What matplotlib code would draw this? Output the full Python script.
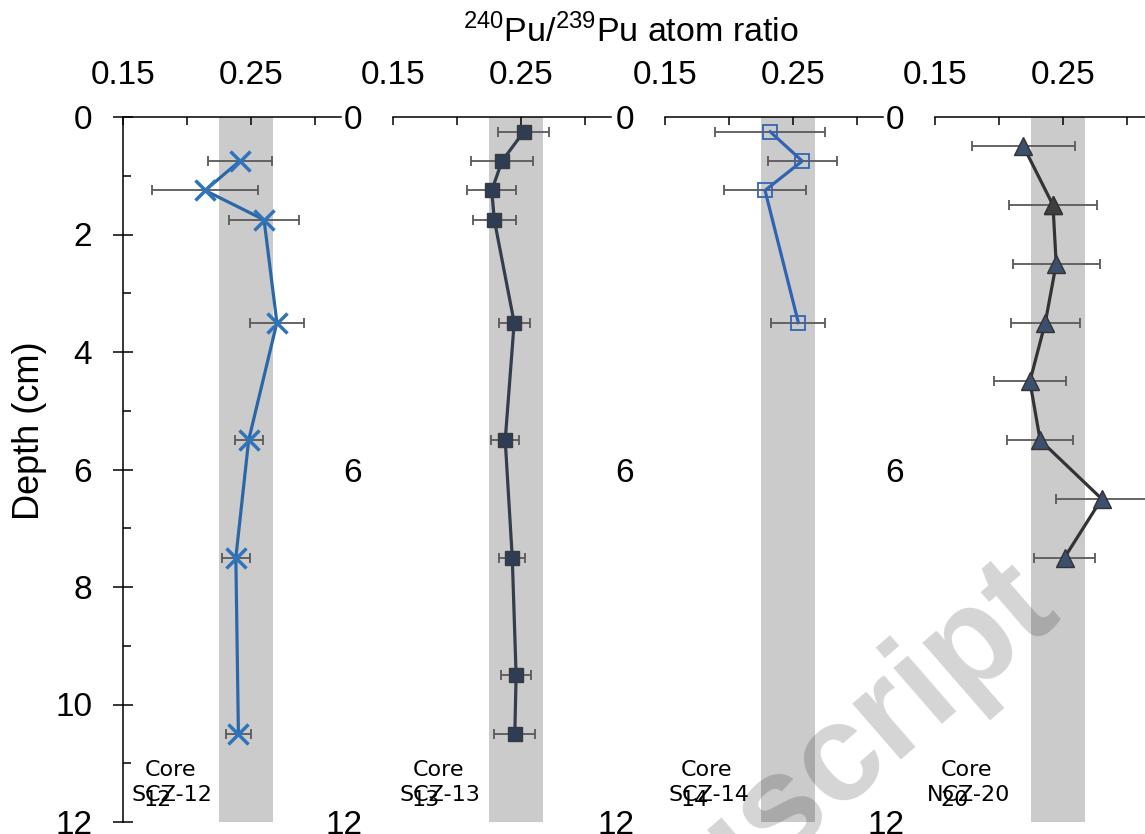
import numpy as np
import matplotlib.pyplot as plt
from matplotlib.ticker import MultipleLocator, FixedLocator

plt.rcParams['font.family'] = ['Liberation Sans', 'DejaVu Sans']
plt.rcParams['mathtext.fontset'] = 'custom'
plt.rcParams['mathtext.rm'] = 'Liberation Sans'

# data: depth (cm), 240Pu/239Pu ratio, error
scz12_depth = [0.75, 1.25, 1.75, 3.5, 5.5, 7.5, 10.5]
scz12_ratio = [0.241, 0.214, 0.260, 0.270, 0.248, 0.238, 0.240]
scz12_err = [0.025, 0.041, 0.027, 0.021, 0.011, 0.011, 0.010]

scz13_depth = [0.25, 0.75, 1.25, 1.75, 3.5, 5.5, 7.5, 9.5, 10.5]
scz13_ratio = [0.252, 0.235, 0.227, 0.229, 0.2445, 0.2375, 0.243, 0.246, 0.245]
scz13_err = [0.020, 0.024, 0.019, 0.017, 0.012, 0.011, 0.010, 0.012, 0.016]

scz14_depth = [0.25, 0.75, 1.25, 3.5]
scz14_ratio = [0.232, 0.257, 0.228, 0.254]
scz14_err = [0.043, 0.027, 0.032, 0.021]

ncz20_depth = [0.5, 1.5, 2.5, 3.5, 4.5, 5.5, 6.5, 7.5]
ncz20_ratio = [0.219, 0.242, 0.2445, 0.236, 0.224, 0.232, 0.280, 0.251]
ncz20_err = [0.040, 0.034, 0.034, 0.027, 0.028, 0.026, 0.036, 0.024]

core_names = ['SCZ-12', 'SCZ-13', 'SCZ-14', 'NCZ-20']
core_nums = ['12', '13', '14', '20']
band = (0.225, 0.267)  # global fallout range

W, H = 1145, 834
fig = plt.figure(figsize=(W / 100, H / 100), dpi=100)

px = 0.72  # points per pixel
lefts = [123, 393, 665, 935]
ax_w, ax_top, ax_bot = 218, 117, 822

series = [
    (scz12_depth, scz12_ratio, scz12_err,
     dict(color='#2a67a8', marker='x', ms=14, mec='#2f74bb', mew=2.5, mfc='#2f74bb')),
    (scz13_depth, scz13_ratio, scz13_err,
     dict(color='#323d4e', marker='s', ms=10.5, mec='#3a3a3a', mew=1.0, mfc='#2e3d55')),
    (scz14_depth, scz14_ratio, scz14_err,
     dict(color='#3262b2', marker='s', ms=10.5, mec='#3464b4', mew=1.3, mfc='none')),
    (ncz20_depth, ncz20_ratio, ncz20_err,
     dict(color='#333333', marker='^', ms=12.5, mec='#333333', mew=1.0, mfc='#3b4f6e')),
]

label_dx = [47, 45, 42, 32]

for i, (d, r, e, st) in enumerate(series):
    ax = fig.add_axes([lefts[i] / W, (H - ax_bot) / H, ax_w / W, (ax_bot - ax_top) / H])
    ax.set_xlim(0.15, 0.32)
    ax.set_ylim(12, 0)
    ax.axvspan(band[0], band[1], color='#cbcbcb', zorder=0, lw=0)
    ax.errorbar(r, d, xerr=e, fmt='none', ecolor='#595959', elinewidth=1.3,
                capsize=3.6, capthick=1.3, zorder=2)
    ax.plot(r, d, color=st['color'], lw=2.3, zorder=3)
    ax.plot(r, d, ls='none', marker=st['marker'], ms=st['ms'], mec=st['mec'],
            mew=st['mew'], mfc=st['mfc'], zorder=4)
    if i == 3:
        # one triangle is drawn in a darker grey in the original
        ax.plot(r[1], d[1], ls='none', marker='^', ms=st['ms'], mec='#333333',
                mew=1.0, mfc='#3f3f3f', zorder=5)

    for s in ['right', 'bottom']:
        ax.spines[s].set_visible(False)
    ax.spines['top'].set_linewidth(1.1)
    ax.xaxis.tick_top()
    ax.xaxis.set_major_locator(FixedLocator([0.15, 0.25]))
    ax.xaxis.set_minor_locator(FixedLocator([0.20, 0.30]))
    ax.set_xticklabels(['0.15', '0.25'])
    ax.tick_params(axis='x', which='both', direction='in', length=8 * px, width=1.1,
                   labelsize=24, pad=19)

    if i == 0:
        ax.spines['left'].set_linewidth(1.1)
        ax.yaxis.set_major_locator(MultipleLocator(2))
        ax.yaxis.set_minor_locator(MultipleLocator(1))
        ax.tick_params(axis='y', which='major', direction='inout', length=20 * px,
                       width=1.1, labelsize=24, pad=21 * px)
        ax.tick_params(axis='y', which='minor', direction='in', length=8 * px, width=1.1)
    else:
        ax.spines['left'].set_visible(False)
        ax.yaxis.set_major_locator(FixedLocator([0, 6, 12]))
        ax.yaxis.set_minor_locator(FixedLocator([]))
        ax.tick_params(axis='y', which='major', length=0, labelsize=24, pad=31 * px)

    cx = lefts[i] + label_dx[i]
    fig.text(cx / W, 1 - 770 / H, 'Core', family='DejaVu Sans', fontsize=16,
             ha='center', va='center')
    fig.text((cx + 2) / W, 1 - 795 / H, core_names[i], family='DejaVu Sans', fontsize=16,
             ha='center', va='center')
    fig.text((cx - 12) / W, 1 - 800 / H, core_nums[i], family='DejaVu Sans', fontsize=16,
             ha='center', va='center')

fig.text(631 / W, 1 - 42 / H, r'$^{240}$Pu/$^{239}$Pu atom ratio', fontsize=24.5,
         ha='center', va='baseline')
fig.text(30 / W, 1 - 431 / H, 'Depth (cm)', fontsize=26, rotation=90,
         ha='center', va='center')

# journal watermark overlay
fig.text(1062 / W, 1 - 612 / H, 'manuscript', fontsize=100, fontweight='bold',
         color='black', alpha=0.17, rotation=41, rotation_mode='anchor',
         ha='right', va='baseline', zorder=10)

fig.savefig('out.png', dpi=100)
